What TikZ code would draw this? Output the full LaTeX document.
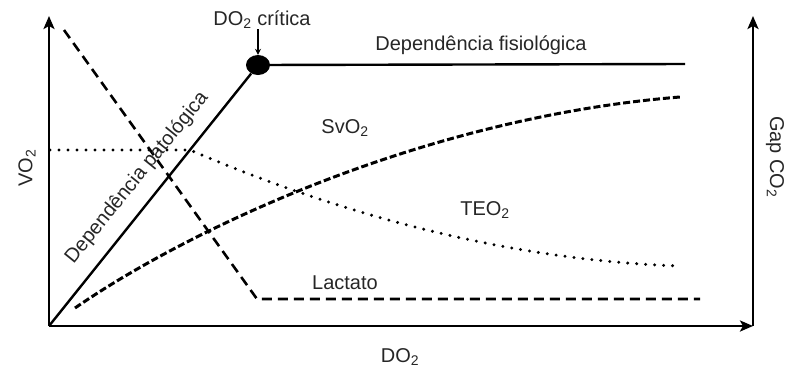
\documentclass[tikz,border=0pt]{standalone}
\usepackage{fontspec}
\setmainfont{Liberation Sans}
\usetikzlibrary{arrows.meta,shapes.geometric}
\tikzset{
  axis/.style={line width=2.8pt,-{Stealth[length=13pt,width=11pt,inset=3pt]}},
  lbl/.style={font=\fontsize{20}{22}\selectfont,inner sep=0pt,text=black!85},
  lact/.style={line width=2.6pt,dash pattern=on 10pt off 6pt},
  svo/.style={line width=3pt,dash pattern=on 7pt off 3pt},
  teo/.style={line width=3.3pt,line cap=round,dash pattern=on 0pt off 9pt},
  solidl/.style={line width=2.4pt}
}
\begin{document}
\begin{tikzpicture}[x=1pt,y=-1pt]
\useasboundingbox (0,0) rectangle (788,376);
\coordinate (O) at (49,326);
\coordinate (yT) at (49,16);
\coordinate (xR) at (753,326);
\coordinate (gT) at (753,16);
% curves
\coordinate (L0) at (64,30);
\coordinate (L1) at (257,299);
\coordinate (L2) at (700,299);
\draw[lact] (L0) -- (L1) -- (L2);
\coordinate (T0) at (50,150);
\coordinate (T1) at (190,150);
\coordinate (T2) at (680,266);
\draw[teo] (T0) -- (T1) .. controls (330,210) and (500,260) .. (T2);
\coordinate (S0) at (75,308);
\coordinate (S1) at (680,97);
\draw[svo] (S0) .. controls (185,232) and (420,118) .. (S1);
% solid
\node[ellipse,fill=black,minimum width=24pt,minimum height=20pt,inner sep=0pt] (crit) at (258,65) {};
\coordinate (F1) at (685,64);
\draw[solidl] (O) -- (crit);
\draw[solidl] (crit) -- (F1);
% axes
\draw[axis] (O) -- (yT);
\draw[axis] (O) -- (xR);
\draw[axis] (xR) -- (gT);
% labels
\node[lbl] (dcrit) at (262,20) {DO\textsubscript{2} crítica};
\draw[line width=1.6pt,-{Stealth[length=6pt,width=6pt]}] (dcrit.south -| crit.north) -- (crit.north);
\node[lbl] (fis) at (481,45) {Dependência fisiológica};
\node[lbl,rotate=51] (pat) at (137,178) {Dependência patológica};
\node[lbl] (svol) at (345,128) {SvO\textsubscript{2}};
\node[lbl] (teol) at (485,210) {TEO\textsubscript{2}};
\node[lbl] (lacl) at (345,283) {Lactato};
\node[lbl,rotate=90] (vo) at (27,168) {VO\textsubscript{2}};
\node[lbl,rotate=-90] (gap) at (775,157) {Gap CO\textsubscript{2}};
\node[lbl] (do) at (400,357) {DO\textsubscript{2}};
\end{tikzpicture}
\end{document}
